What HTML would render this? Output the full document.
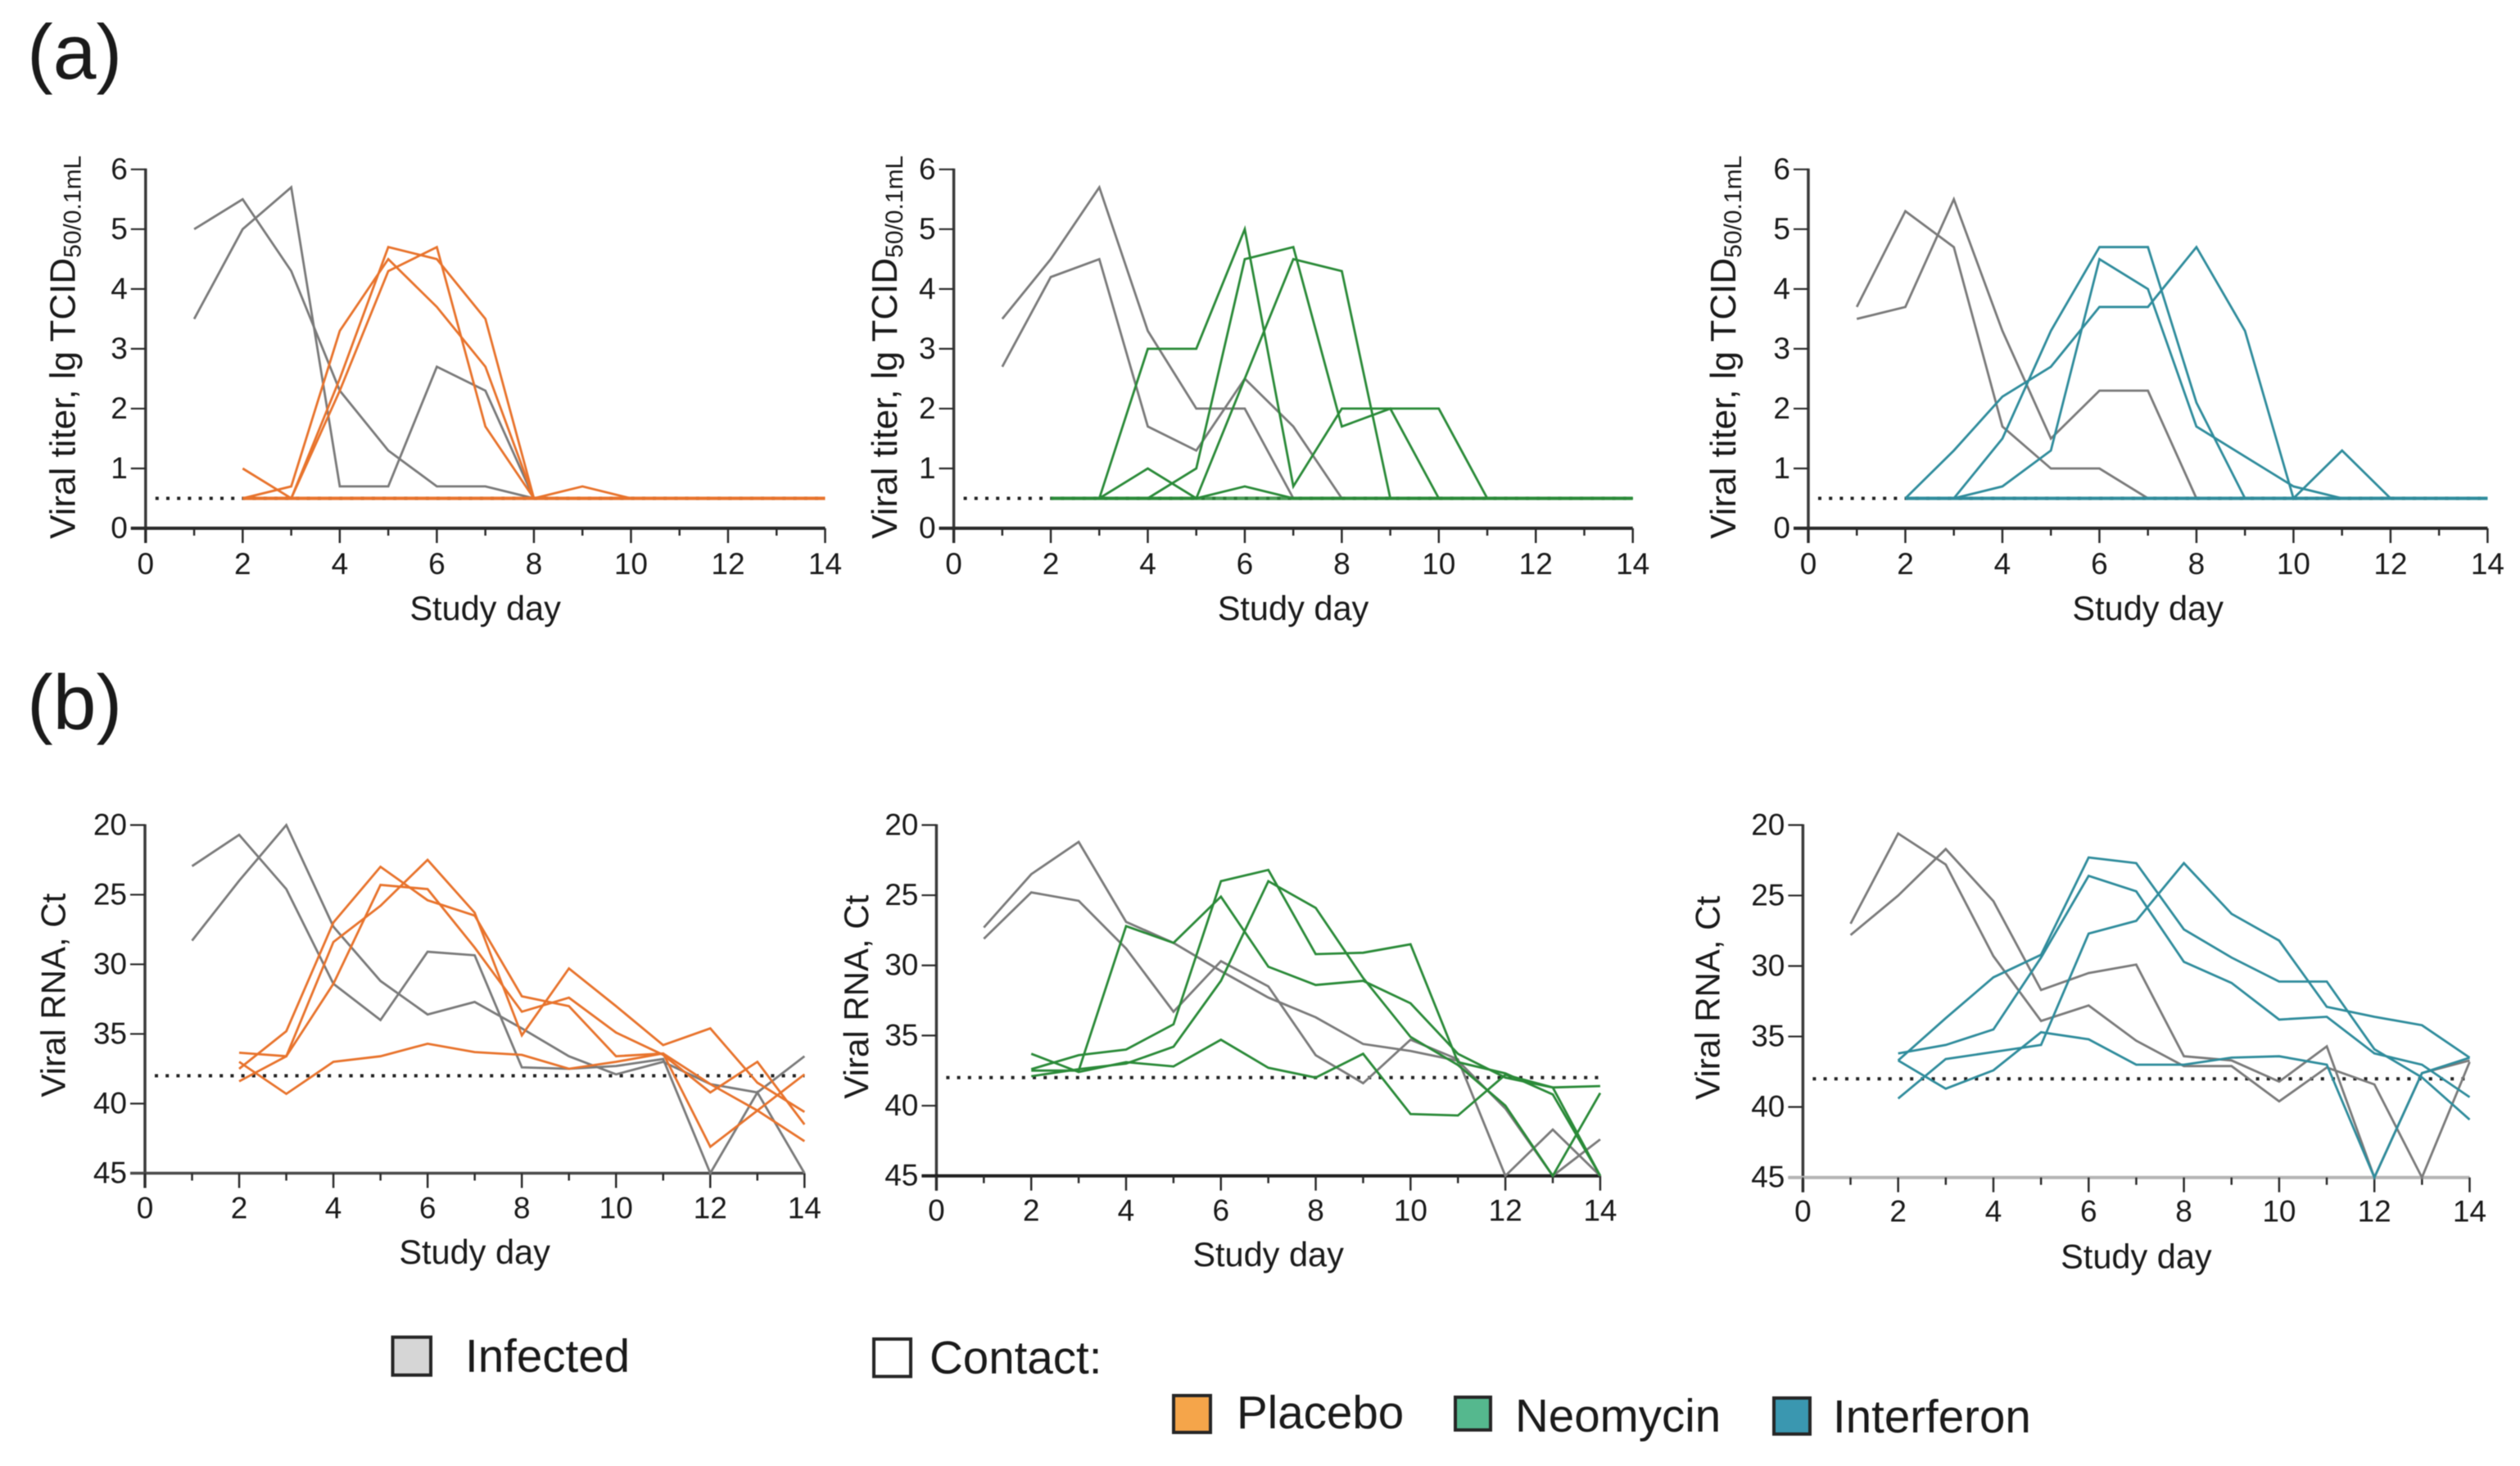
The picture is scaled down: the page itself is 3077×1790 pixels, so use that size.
<!DOCTYPE html>
<html lang="en">
<head>
<meta charset="utf-8">
<title>Viral titer and viral RNA by study day</title>
<style>
html,body{margin:0;padding:0;background:#fff;}
#figure{display:block;width:3077px;height:1790px;font-family:"Liberation Sans",sans-serif;fill:#1a1a1a;filter:blur(0.5px);}
</style>
</head>
<body>
<svg id="figure" xmlns="http://www.w3.org/2000/svg" width="3077" height="1790" viewBox="0 0 3077 1790">
  <rect x="0" y="0" width="3077" height="1790" fill="#ffffff"/>
  <text x="33" y="96" font-size="95">(a)</text>
  <text x="33" y="890" font-size="95">(b)</text>

  <g id="a1">
    <text transform="translate(91.5,658) rotate(-90)" font-size="44">Viral titer, lg TCID<tspan dy="7" font-size="30">50/0.1mL</tspan></text>
    <text x="592.6" y="757" text-anchor="middle" font-size="41.5">Study day</text>
  </g>
  <g id="a2">
    <text transform="translate(1095,658) rotate(-90)" font-size="44">Viral titer, lg TCID<tspan dy="7" font-size="30">50/0.1mL</tspan></text>
    <text x="1579" y="757" text-anchor="middle" font-size="41.5">Study day</text>
  </g>
  <g id="a3">
    <text transform="translate(2119,658) rotate(-90)" font-size="44">Viral titer, lg TCID<tspan dy="7" font-size="30">50/0.1mL</tspan></text>
    <text x="2622.7" y="757" text-anchor="middle" font-size="41.5">Study day</text>
  </g>
  <g id="b1">
    <text transform="translate(79.6,1339.6) rotate(-90)" font-size="42">Viral RNA, Ct</text>
    <text x="579.6" y="1543" text-anchor="middle" font-size="41.5">Study day</text>
  </g>
  <g id="b2">
    <text transform="translate(1059.8,1341.6) rotate(-90)" font-size="42">Viral RNA, Ct</text>
    <text x="1548.6" y="1546" text-anchor="middle" font-size="41.5">Study day</text>
  </g>
  <g id="b3">
    <text transform="translate(2099.5,1342.8) rotate(-90)" font-size="42">Viral RNA, Ct</text>
    <text x="2608.4" y="1548.4" text-anchor="middle" font-size="41.5">Study day</text>
  </g>

  <g font-size="56.5">
    <g>
      <rect x="479.5" y="1632.7" width="46.5" height="46.3" fill="#d6d6d6" stroke="#262626" stroke-width="4"/>
      <text x="568" y="1675">Infected</text>
    </g>
    <g>
      <rect x="1067" y="1635" width="45" height="45.7" fill="#ffffff" stroke="#262626" stroke-width="4"/>
      <text x="1135" y="1677">Contact:</text>
    </g>
    <g>
      <rect x="1433" y="1704" width="45" height="45" fill="#f5a54a" stroke="#262626" stroke-width="4"/>
      <text x="1510" y="1744">Placebo</text>
    </g>
    <g>
      <rect x="1777" y="1706" width="43" height="40" fill="#55b88e" stroke="#262626" stroke-width="4"/>
      <text x="1850" y="1748">Neomycin</text>
    </g>
    <g>
      <rect x="2166" y="1707" width="44" height="44" fill="#3a97b0" stroke="#262626" stroke-width="4"/>
      <text x="2238" y="1749">Interferon</text>
    </g>
  </g>
</svg>

<script>
const _ = null;

/* Shared categories and tick labels */
const studyDays = [1, 2, 3, 4, 5, 6, 7, 8, 9, 10, 11, 12, 13, 14];
const xTickValues = [0, 1, 2, 3, 4, 5, 6, 7, 8, 9, 10, 11, 12, 13, 14];
const xTickLabels = ["0", "", "2", "", "4", "", "6", "", "8", "", "10", "", "12", "", "14"];
const titerTickValues = [0, 1, 2, 3, 4, 5, 6];
const titerTickLabels = ["0", "1", "2", "3", "4", "5", "6"];
const ctTickValues = [20, 25, 30, 35, 40, 45];
const ctTickLabels = ["20", "25", "30", "35", "40", "45"];
const titerDetectionLimit = [0.5];
const ctDetectionLimit = [38];
const firstContactDay = [2];

/* (a) viral titer, placebo */
const a1Infected1 = [5, 5.5, 4.3, 2.3, 1.3, 0.7, 0.7, 0.5, _, _, _, _, _, _];
const a1Infected2 = [3.5, 5, 5.7, 0.7, 0.7, 2.7, 2.3, 0.5, _, _, _, _, _, _];
const a1Contact1 = [_, 0.5, 0.7, 3.3, 4.5, 3.7, 2.7, 0.5, 0.7, 0.5, 0.5, 0.5, 0.5, 0.5];
const a1Contact2 = [_, 1, 0.5, 2.5, 4.7, 4.5, 3.5, 0.5, 0.5, 0.5, 0.5, 0.5, 0.5, 0.5];
const a1Contact3 = [_, 0.5, 0.5, 2.3, 4.3, 4.7, 1.7, 0.5, 0.5, 0.5, 0.5, 0.5, 0.5, 0.5];
const a1Contact4 = [_, 0.5, 0.5, 0.5, 0.5, 0.5, 0.5, 0.5, 0.5, 0.5, 0.5, 0.5, 0.5, 0.5];

/* (a) viral titer, neomycin */
const a2Infected1 = [3.5, 4.5, 5.7, 3.3, 2, 2, 0.5, 0.5, _, _, _, _, _, _];
const a2Infected2 = [2.7, 4.2, 4.5, 1.7, 1.3, 2.5, 1.7, 0.5, _, _, _, _, _, _];
const a2Contact1 = [_, 0.5, 0.5, 3, 3, 5, 0.7, 2, 2, 2, 0.5, 0.5, 0.5, 0.5];
const a2Contact2 = [_, 0.5, 0.5, 1, 0.5, 2.5, 4.5, 4.3, 0.5, 0.5, 0.5, 0.5, 0.5, 0.5];
const a2Contact3 = [_, 0.5, 0.5, 0.5, 1, 4.5, 4.7, 1.7, 2, 0.5, 0.5, 0.5, 0.5, 0.5];
const a2Contact4 = [_, 0.5, 0.5, 0.5, 0.5, 0.7, 0.5, 0.5, 0.5, 0.5, 0.5, 0.5, 0.5, 0.5];

/* (a) viral titer, interferon */
const a3Infected1 = [3.7, 5.3, 4.7, 1.7, 1, 1, 0.5, 0.5, _, _, _, _, _, _];
const a3Infected2 = [3.5, 3.7, 5.5, 3.3, 1.5, 2.3, 2.3, 0.5, _, _, _, _, _, _];
const a3Contact1 = [_, 0.5, 1.3, 2.2, 2.7, 3.7, 3.7, 4.7, 3.3, 0.5, 1.3, 0.5, 0.5, 0.5];
const a3Contact2 = [_, 0.5, 0.5, 1.5, 3.3, 4.7, 4.7, 2.1, 0.5, 0.5, 0.5, 0.5, 0.5, 0.5];
const a3Contact3 = [_, 0.5, 0.5, 0.7, 1.3, 4.5, 4, 1.7, 1.2, 0.7, 0.5, 0.5, 0.5, 0.5];
const a3Contact4 = [_, 0.5, 0.5, 0.5, 0.5, 0.5, 0.5, 0.5, 0.5, 0.5, 0.5, 0.5, 0.5, 0.5];

/* (b) viral RNA, placebo */
const b1Infected1 = [22.95, 20.7, 24.6, 31.4, 34, 29.1, 29.35, 37.4, 37.5, 37.3, 36.8, 45, 39.2, 45];
const b1Infected2 = [28.3, 24, 20, 27.3, 31.2, 33.6, 32.7, 34.6, 36.6, 37.9, 37, 38.6, 39.2, 36.6];
const b1Contact1 = [_, 36.35, 36.6, 31.4, 24.3, 24.6, 28.8, 33.4, 32.4, 34.9, 36.5, 39.2, 37, 41.5];
const b1Contact2 = [_, 37.5, 34.8, 27, 23, 25.4, 26.5, 32.3, 33, 36.6, 36.4, 43.1, 40.5, 37.9];
const b1Contact3 = [_, 38.4, 36.6, 28.4, 25.8, 22.5, 26.3, 35.1, 30.3, 33, 35.8, 34.6, 38.5, 40.6];
const b1Contact4 = [_, 37, 39.3, 37, 36.6, 35.7, 36.3, 36.5, 37.5, 37, 36.4, 38.6, 40.5, 42.7];

/* (b) viral RNA, neomycin */
const b2Infected1 = [27.3, 23.5, 21.2, 26.9, 28.4, 30.4, 32.3, 33.7, 35.6, 36.1, 36.8, 40.2, 45, 42.4];
const b2Infected2 = [28.1, 24.8, 25.4, 28.8, 33.3, 29.7, 31.5, 36.4, 38.4, 35.3, 36.7, 45, 41.7, 45];
const b2Contact1 = [_, 37.5, 37.5, 27.2, 28.4, 25.1, 30.1, 31.4, 31.1, 32.7, 36.3, 38, 38.7, 38.6];
const b2Contact2 = [_, 37.9, 37.4, 37, 35.8, 31.1, 24, 25.9, 30.9, 35.1, 37.1, 40, 45, 39.1];
const b2Contact3 = [_, 37.4, 36.4, 36, 34.2, 24, 23.2, 29.2, 29.1, 28.5, 36.9, 37.7, 39.2, 45];
const b2Contact4 = [_, 36.3, 37.6, 36.9, 37.2, 35.3, 37.3, 38, 36.3, 40.6, 40.7, 37.8, 38.7, 45];

/* (b) viral RNA, interferon */
const b3Infected1 = [27, 20.6, 22.8, 29.3, 33.9, 32.8, 35.3, 37.1, 37.1, 39.6, 37.2, 38.4, 45, 36.8];
const b3Infected2 = [27.8, 25, 21.7, 25.4, 31.7, 30.5, 29.9, 36.4, 36.7, 38.2, 35.7, 45, 37.6, 36.7];
const b3Contact1 = [_, 36.2, 35.6, 34.5, 29.4, 23.6, 24.7, 29.7, 31.2, 33.8, 33.6, 36.2, 37, 39.3];
const b3Contact2 = [_, 36.7, 33.7, 30.8, 29.2, 22.3, 22.7, 27.4, 29.4, 31.1, 31.1, 35.9, 37.9, 40.9];
const b3Contact3 = [_, 39.4, 36.6, 36.1, 35.6, 27.7, 26.8, 22.7, 26.3, 28.2, 32.9, 33.6, 34.2, 36.5];
const b3Contact4 = [_, 36.7, 38.7, 37.4, 34.7, 35.2, 37, 37, 36.5, 36.4, 37, 45, 37.6, 36.5];

const SVG_NS = "http://www.w3.org/2000/svg";

function shape(parent, tag, props) {
  const el = document.createElementNS(SVG_NS, tag);
  for (const key in props) el.setAttribute(key, props[key]);
  parent.appendChild(el);
  return el;
}

function linearScale(d0, d1, r0, r1) {
  return function (v) { return r0 + (v - d0) * (r1 - r0) / (d1 - d0); };
}

function drawSeries(group, x, y, values, color, name) {
  const pts = [];
  values.forEach(function (v, i) {
    if (v !== null) pts.push(x(studyDays[i]).toFixed(1) + "," + y(v).toFixed(1));
  });
  const line = shape(group, "polyline", {
    points: pts.join(" "), fill: "none", stroke: color,
    "stroke-width": 2.8, "stroke-linejoin": "miter"
  });
  
  
}

function drawPanel(cfg) {
  const root = document.getElementById(cfg.id);
  const x = linearScale(0, 14, cfg.x0, cfg.x14);
  const y = linearScale(cfg.dTop, cfg.dBase, cfg.yTop, cfg.yBase);
  const axisY = cfg.yBase;

  /* detection limit */
  const limit = shape(root, "line", {
    x1: cfg.x0 + 12, x2: cfg.x14, y1: y(cfg.limit[0]), y2: y(cfg.limit[0]),
    stroke: "#222", "stroke-width": 4, "stroke-dasharray": "4 9.2"
  });
  
  

  /* y axis */
  const yAxis = shape(root, "line", {
    x1: cfg.x0, x2: cfg.x0, y1: cfg.yTop - 1, y2: axisY + 18, stroke: "#3a3a3a", "stroke-width": 3.5
  });
  
  

  cfg.yTicks.forEach(function (v, i) {
    const tick = shape(root, "line", {
      x1: cfg.x0 - 18, x2: cfg.x0, y1: y(v), y2: y(v), stroke: "#2b2b2b", "stroke-width": 2.2
    });
    
    
    const label = shape(root, "text", {
      x: cfg.x0 - 22, y: y(v) + 12, "text-anchor": "end", "font-size": 37
    });
    label.textContent = cfg.yLabels[i];
    
    
  });

  /* x axis */
  const xAxis = shape(root, "line", {
    x1: cfg.x0 - 18, x2: cfg.x14, y1: axisY, y2: axisY,
    stroke: cfg.axisColor, "stroke-width": cfg.axisWidth
  });
  
  

  xTickValues.forEach(function (v, i) {
    const major = xTickLabels[i] !== "";
    const tick = shape(root, "line", {
      x1: x(v), x2: x(v), y1: axisY, y2: axisY + (major ? 18 : 9), stroke: "#2b2b2b", "stroke-width": 2.5
    });
    
    
    if (major) {
      const label = shape(root, "text", {
        x: x(v), y: axisY + cfg.xLabelOffset, "text-anchor": "middle", "font-size": 37
      });
      label.textContent = xTickLabels[i];
      
      
    }
  });

  /* series */
  cfg.infected.forEach(function (s, i) {
    drawSeries(root, x, y, s, "#7a7a7a", 'infected-line-' + (i + 1));
  });
  if (cfg.heavyFloor) {
    const floor = shape(root, "line", {
      x1: x(firstContactDay[0]), x2: cfg.x14, y1: y(cfg.limit[0]), y2: y(cfg.limit[0]),
      stroke: cfg.color, "stroke-width": 4.2, "stroke-opacity": 0.85
    });
    
    
  }
  cfg.contacts.forEach(function (s, i) {
    drawSeries(root, x, y, s, cfg.color, 'contact-line-' + (i + 1));
  });
}

const orangeLine = "#e8732c";
const greenLine = "#2a8a38";
const tealLine = "#2f8c9c";

drawPanel({ id: "a1", x0: 177.8, x14: 1007.5, yTop: 206.8, yBase: 645, dTop: 6, dBase: 0,
  yTicks: titerTickValues, yLabels: titerTickLabels, limit: titerDetectionLimit, heavyFloor: true,
  axisColor: "#2b2b2b", axisWidth: 4, xLabelOffset: 56, color: orangeLine,
  infected: [a1Infected1, a1Infected2], contacts: [a1Contact1, a1Contact2, a1Contact3, a1Contact4] });

drawPanel({ id: "a2", x0: 1164.6, x14: 1993.7, yTop: 206.8, yBase: 645, dTop: 6, dBase: 0,
  yTicks: titerTickValues, yLabels: titerTickLabels, limit: titerDetectionLimit, heavyFloor: true,
  axisColor: "#2b2b2b", axisWidth: 4, xLabelOffset: 56, color: greenLine,
  infected: [a2Infected1, a2Infected2], contacts: [a2Contact1, a2Contact2, a2Contact3, a2Contact4] });

drawPanel({ id: "a3", x0: 2208, x14: 3037.4, yTop: 206.8, yBase: 645, dTop: 6, dBase: 0,
  yTicks: titerTickValues, yLabels: titerTickLabels, limit: titerDetectionLimit, heavyFloor: true,
  axisColor: "#2b2b2b", axisWidth: 4, xLabelOffset: 56, color: tealLine,
  infected: [a3Infected1, a3Infected2], contacts: [a3Contact1, a3Contact2, a3Contact3, a3Contact4] });

drawPanel({ id: "b1", x0: 177, x14: 982.3, yTop: 1007.4, yBase: 1432.5, dTop: 20, dBase: 45,
  yTicks: ctTickValues, yLabels: ctTickLabels, limit: ctDetectionLimit,
  axisColor: "#4a4a4a", axisWidth: 3.5, xLabelOffset: 55, color: orangeLine,
  infected: [b1Infected1, b1Infected2], contacts: [b1Contact1, b1Contact2, b1Contact3, b1Contact4] });

drawPanel({ id: "b2", x0: 1143.4, x14: 1953.9, yTop: 1007.4, yBase: 1435.7, dTop: 20, dBase: 45,
  yTicks: ctTickValues, yLabels: ctTickLabels, limit: ctDetectionLimit,
  axisColor: "#1f1f1f", axisWidth: 4, xLabelOffset: 55, color: greenLine,
  infected: [b2Infected1, b2Infected2], contacts: [b2Contact1, b2Contact2, b2Contact3, b2Contact4] });

drawPanel({ id: "b3", x0: 2201.4, x14: 3015.5, yTop: 1007.4, yBase: 1437.7, dTop: 20, dBase: 45,
  yTicks: ctTickValues, yLabels: ctTickLabels, limit: ctDetectionLimit,
  axisColor: "#b5b5b5", axisWidth: 4, xLabelOffset: 54, color: tealLine,
  infected: [b3Infected1, b3Infected2], contacts: [b3Contact1, b3Contact2, b3Contact3, b3Contact4] });
</script>
</body>
</html>
